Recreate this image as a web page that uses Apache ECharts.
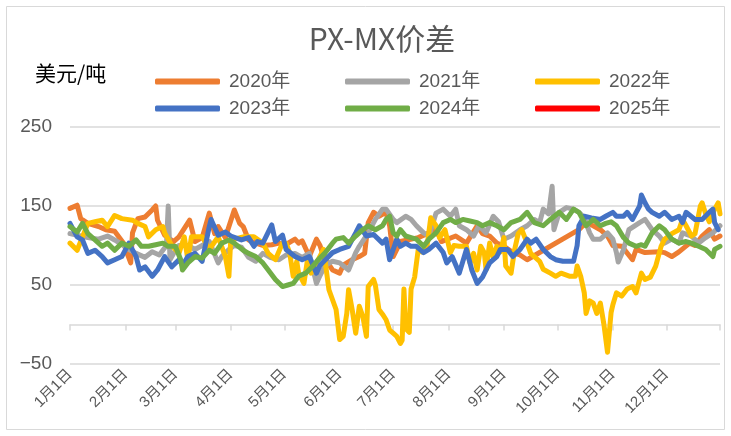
<!DOCTYPE html>
<html>
<head>
<meta charset="utf-8">
<script src="https://cdn.jsdelivr.net/npm/echarts@6/dist/echarts.min.js"></script>
<style>html,body{margin:0;padding:0;background:#fff}#c{width:731px;height:436px}</style>
</head>
<body>
<div id="c"></div>
<script>
// ---- data ----
const monthDays = [31,28,31,30,31,30,31,31,30,31,30,31];
const yTicks = [-50, 50, 150, 250];
const seriesNames = ['2020年','2021年','2022年','2023年','2024年','2025年'];
const seriesColors = ['#ED7D31','#A5A5A5','#FFC000','#4472C4','#70AD47','#FF0000'];

// [dayOfYear, value]
const y2020 = [[0,147],[4,151],[6,134],[10,128],[16,124],[20,120],[25,118],[30,103],[32,90],[34,78],[35,116],[38,134],[42,136],[46,145],[48,150],[49,132],[53,113],[58,105],[61,111],[67,132],[70,105],[74,110],[78,141],[81,115],[83,124],[87,110],[92,145],[95,128],[97,124],[100,107],[104,103],[108,100],[113,101],[117,103],[120,100],[126,108],[128,103],[130,106],[134,86],[138,108],[140,100],[142,86],[147,69],[151,65],[153,75],[158,82],[162,86],[165,90],[167,129],[170,142],[173,137],[177,142],[179,125],[181,86],[183,95],[185,105],[195,110],[205,120],[208,105],[216,112],[222,103],[228,125],[231,115],[235,112],[239,103],[243,99],[248,91],[252,88],[256,82],[285,120],[289,129],[293,125],[297,120],[301,112],[304,100],[309,99],[315,82],[317,95],[322,91],[330,92],[333,91],[337,86],[341,92],[347,103],[350,100],[354,112],[358,120],[361,108],[364,112]];
const y2021 = [[0,115],[6,112],[10,110],[16,108],[21,112],[25,107],[30,100],[33,95],[37,90],[42,85],[46,92],[50,88],[54,100],[55,150],[56,82],[58,90],[61,100],[66,100],[70,95],[74,100],[78,105],[83,78],[85,86],[89,95],[92,100],[96,98],[100,85],[104,80],[108,90],[112,85],[117,82],[121,88],[126,90],[130,85],[134,90],[138,52],[140,62],[143,75],[147,80],[151,78],[156,69],[160,91],[162,99],[167,116],[171,133],[175,146],[177,146],[181,133],[183,129],[188,137],[191,133],[194,125],[198,116],[201,112],[205,141],[209,146],[213,137],[216,146],[218,125],[222,120],[226,112],[229,125],[233,116],[237,137],[240,130],[243,108],[247,112],[252,120],[256,125],[260,133],[263,129],[265,146],[268,140],[270,175],[271,120],[274,142],[278,148],[282,146],[285,142],[288,135],[291,116],[293,108],[297,108],[301,116],[304,108],[306,91],[307,79],[310,95],[313,120],[319,129],[322,133],[326,120],[330,112],[333,103],[337,108],[341,103],[343,116],[348,112],[352,103],[356,110],[360,116],[364,125]];
const y2022 = [[0,103],[4,94],[7,111],[10,128],[14,130],[18,132],[21,124],[25,138],[29,134],[35,132],[38,128],[42,124],[44,111],[48,120],[52,124],[53,116],[57,100],[61,90],[64,111],[66,82],[68,111],[74,111],[78,95],[83,111],[87,86],[89,61],[90,107],[97,111],[103,111],[108,103],[111,90],[115,82],[119,103],[121,103],[123,91],[125,61],[127,80],[128,65],[131,52],[133,82],[135,65],[139,82],[142,95],[143,78],[145,44],[149,19],[151,-19],[153,-15],[155,14],[156,44],[158,19],[160,-11],[162,23],[164,10],[166,-15],[167,48],[170,57],[171,50],[173,19],[175,13],[177,6],[179,-7],[181,-11],[183,-15],[185,-24],[186,-20],[187,45],[188,-5],[190,-10],[191,45],[193,60],[195,95],[197,92],[200,100],[202,135],[203,133],[205,125],[207,110],[210,120],[213,91],[215,100],[218,99],[222,99],[224,78],[226,90],[228,69],[230,99],[232,91],[233,69],[235,103],[237,85],[239,99],[241,92],[243,110],[244,74],[247,65],[249,95],[251,115],[253,120],[256,103],[258,90],[263,80],[265,70],[269,65],[272,61],[275,65],[280,61],[283,61],[284,74],[286,61],[288,40],[289,14],[291,30],[293,27],[295,14],[297,27],[299,0],[301,-35],[303,15],[304,25],[306,40],[309,36],[312,45],[315,48],[317,40],[320,65],[322,57],[325,60],[328,74],[331,99],[333,108],[337,115],[341,120],[343,133],[345,125],[348,112],[350,115],[353,150],[354,154],[356,140],[358,130],[361,146],[363,154],[364,140]];
const y2023 = [[0,128],[4,111],[7,107],[10,90],[14,94],[18,86],[21,78],[25,82],[29,86],[33,103],[37,86],[39,69],[42,73],[46,61],[49,69],[53,86],[57,73],[61,82],[63,75],[66,86],[70,90],[74,80],[78,124],[79,133],[83,113],[87,117],[90,112],[96,107],[100,110],[103,99],[105,105],[108,103],[113,126],[115,105],[119,113],[121,95],[126,86],[130,82],[134,86],[138,65],[140,75],[143,82],[147,91],[151,95],[156,99],[160,116],[162,125],[166,112],[170,114],[175,103],[177,108],[179,82],[181,95],[183,108],[185,99],[188,103],[191,99],[194,99],[198,91],[201,95],[205,103],[209,91],[211,78],[214,86],[218,65],[222,95],[225,69],[228,52],[231,60],[233,69],[235,78],[239,86],[241,95],[245,95],[248,86],[252,95],[256,108],[258,103],[261,108],[265,95],[269,86],[272,82],[276,80],[282,80],[284,100],[285,125],[288,137],[292,135],[297,133],[300,137],[304,142],[306,137],[310,137],[312,142],[315,133],[319,150],[320,164],[322,154],[324,146],[326,142],[330,137],[333,142],[337,133],[341,137],[343,129],[345,142],[350,133],[354,133],[358,142],[360,146],[361,129],[363,120]];
const y2024 = [[0,124],[4,117],[7,128],[10,115],[14,107],[18,99],[21,103],[25,94],[29,103],[33,99],[37,107],[40,99],[44,99],[48,101],[52,103],[55,99],[59,99],[62,82],[63,69],[66,78],[70,86],[74,84],[78,94],[81,90],[85,103],[89,107],[92,103],[97,94],[100,90],[104,86],[108,78],[111,69],[115,57],[119,48],[122,50],[125,52],[128,61],[132,65],[136,74],[139,82],[143,91],[147,103],[149,108],[153,110],[156,103],[160,112],[164,120],[167,125],[171,120],[175,125],[177,133],[179,137],[181,116],[183,112],[185,120],[188,112],[191,110],[194,108],[198,99],[201,108],[205,116],[209,129],[213,133],[216,129],[220,133],[224,131],[228,129],[231,125],[235,129],[239,125],[243,120],[247,129],[252,133],[256,142],[260,129],[265,125],[269,133],[274,142],[278,133],[282,146],[285,142],[289,125],[293,133],[297,125],[300,128],[303,130],[306,125],[310,110],[313,103],[317,99],[320,101],[322,99],[326,116],[330,125],[333,120],[337,108],[341,103],[345,105],[348,103],[352,99],[356,95],[360,86],[361,95],[364,99]];
const y2025 = [];

// categories: every day of the year, "M月D日"
const categories = [];
monthDays.forEach((n, m) => { for (let d = 1; d <= n; d++) categories.push((m + 1) + '月' + d + '日'); });

const seriesData = [y2020, y2021, y2022, y2023, y2024, y2025];

const chart = echarts.init(document.getElementById('c'), null, {renderer: 'canvas'});
const isMonthStart = (i, v) => /月1日$/.test(v) || i === categories.length - 1;
const txt = '#595959';
const latin = 'Liberation Sans, "Noto Sans CJK SC", sans-serif';

const legends = seriesNames.map((name, k) => ({
  data: [name], left: 155 + (k % 3) * 190, top: k < 3 ? 72 : 99, padding: 0,
  icon: 'roundRect', itemWidth: 65, itemHeight: 6, itemGap: 0,
  textStyle: {fontSize: 19, color: txt, fontFamily: latin, padding: [0, 0, 0, 4]}
}));

chart.setOption({
  animation: false,
  backgroundColor: '#fff',
  graphic: [
    {type: 'rect', shape: {x: 6.5, y: 6.5, width: 718, height: 423}, style: {fill: 'none', stroke: '#d9d9d9', lineWidth: 1}, silent: true},
    {type: 'text', x: 382, y: 39, style: {text: 'PX-MX价差', fill: txt, font: '30px "Noto Sans CJK SC", sans-serif', textAlign: 'center', textVerticalAlign: 'middle'}},
    {type: 'text', x: 35, y: 73, style: {text: '美元/吨', fill: '#000', font: '21px "Noto Sans CJK SC", sans-serif', textAlign: 'left', textVerticalAlign: 'middle'}}
  ],
  legend: legends,
  grid: {left: 70, right: 11, top: 127, bottom: 72, containLabel: false},
  xAxis: [
    {type: 'category', data: categories, boundaryGap: false, position: 'bottom',
     axisLine: {onZero: true, lineStyle: {color: '#d9d9d9', width: 1.5}},
     axisTick: {show: true, interval: isMonthStart, length: 6, lineStyle: {color: '#d9d9d9', width: 1.5}},
     axisLabel: {show: false}, splitLine: {show: false}},
    {type: 'category', data: categories, boundaryGap: false, position: 'bottom',
     axisLine: {show: false, onZero: false}, axisTick: {show: false}, splitLine: {show: false},
     axisLabel: {interval: (i, v) => /月1日$/.test(v), rotate: 45, fontSize: 15, color: txt, margin: 8, fontFamily: latin}}
  ],
  yAxis: {type: 'value', min: yTicks[0], max: yTicks[yTicks.length - 1], interval: 100,
    axisLine: {show: false}, axisTick: {show: false},
    splitLine: {lineStyle: {color: '#d9d9d9', width: 1.5}},
    axisLabel: {fontSize: 19, color: txt, margin: 18, fontFamily: 'Liberation Sans, sans-serif',
                formatter: v => String(v).replace('-', '−')}},
  series: seriesNames.map((name, k) => ({
    name, type: 'line', xAxisIndex: 0, data: seriesData[k], showSymbol: false, symbol: 'none',
    color: seriesColors[k],
    lineStyle: {width: 5, color: seriesColors[k], cap: 'round', join: 'round'}
  }))
});
</script>
</body>
</html>
